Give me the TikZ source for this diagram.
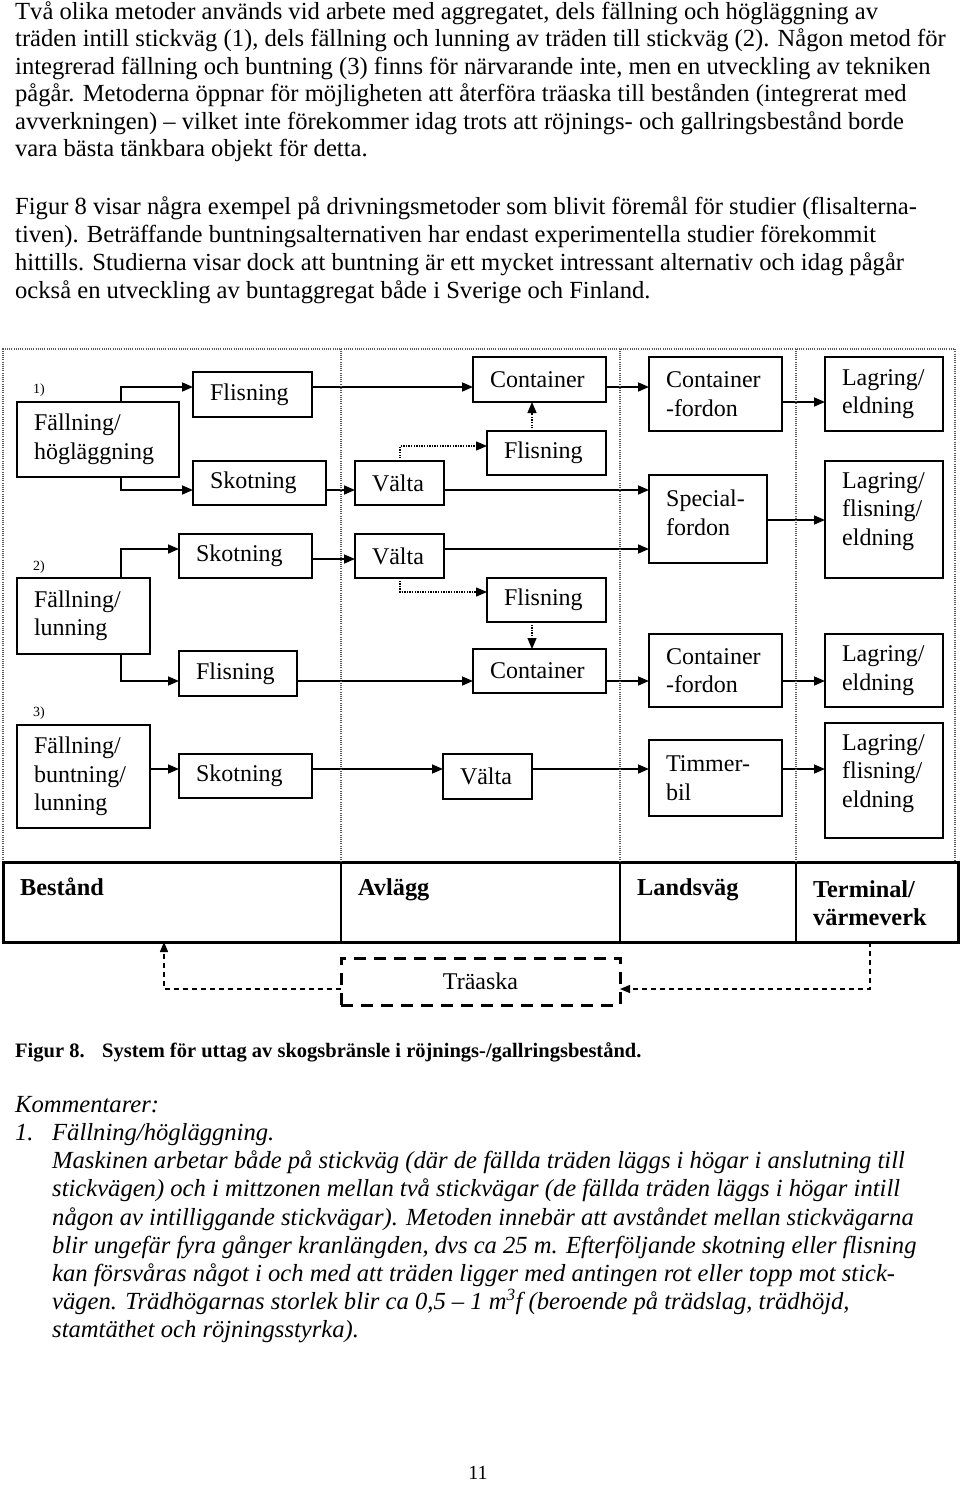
\documentclass[tikz,border=0pt]{standalone}
\usepackage{fontspec}
\setmainfont{Liberation Serif}
\usetikzlibrary{arrows.meta,calc}
\newcommand\diagfont{\fontsize{24}{28.5}\selectfont\hyphenpenalty=10000\relax}
\newcommand\bodyfont{\fontsize{24.6}{28}\selectfont}
\newcommand\mkbox[6]{\pgfmathsetmacro\mytw{#4-34}\node[bx, minimum width=#4pt, minimum height=#5pt, text width=\mytw pt] (#1) at (#2,#3) {#6};}
\begin{document}
\begin{tikzpicture}[x=1pt,y=-1pt,
  bx/.style={draw, line width=1.6pt, inner xsep=17pt, inner ysep=0pt, outer sep=0pt, align=left, anchor=north west, font=\diagfont},
  btxt/.style={inner sep=0pt, align=left, anchor=west, font=\diagfont},
  arr/.style={line width=1.6pt, -{Triangle[length=11pt,width=9pt]}},
  darr/.style={line width=1.3pt, dash pattern=on 1.3pt off 1.3pt, -{Triangle[length=11pt,width=9pt]}},
  tarr/.style={line width=1.3pt, dash pattern=on 5pt off 4pt, -{Triangle[length=10pt,width=8pt]}},
  frame/.style={line width=1.1pt, black!65, dash pattern=on 1pt off 1.2pt},
  ptxt/.style={inner sep=0pt, anchor=mid west, font=\bodyfont},
  itxt/.style={inner sep=0pt, anchor=mid west, font=\bodyfont\itshape},
  ctxt/.style={inner sep=0pt, anchor=mid west, font=\fontsize{20.5}{24}\selectfont\bfseries},
  ttxt/.style={inner sep=0pt, anchor=mid west, font=\fontsize{24.3}{28}\selectfont\bfseries},
  lab/.style={inner sep=0pt, font=\fontsize{14}{16}\selectfont},
  cell/.style={draw, line width=2pt, minimum height=80pt, inner sep=0pt, outer sep=0pt, anchor=north west}
]
\useasboundingbox (0,0) rectangle (960,1493);
\fill[white] (0,0) rectangle (960,1493);

% ---------- body text ----------
\node[ptxt] (a1) at (15,17.0) {Två olika metoder används vid arbete med aggregatet, dels fällning och högläggning av};
\node[ptxt] (a2) at (15,44.5) {träden intill stickväg (1), dels fällning och lunning av träden till stickväg (2). Någon metod för};
\node[ptxt] (a3) at (15,72.0) {integrerad fällning och buntning (3) finns för närvarande inte, men en utveckling av tekniken};
\node[ptxt] (a4) at (15,99.5) {pågår. Metoderna öppnar för möjligheten att återföra träaska till bestånden (integrerat med};
\node[ptxt] (a5) at (15,127.0) {avverkningen) – vilket inte förekommer idag trots att röjnings- och gallringsbestånd borde};
\node[ptxt] (a6) at (15,154.5) {vara bästa tänkbara objekt för detta.};
\node[ptxt] (b1) at (15,212.5) {Figur 8 visar några exempel på drivningsmetoder som blivit föremål för studier (flisalterna-};
\node[ptxt] (b2) at (15,240.4) {tiven). Beträffande buntningsalternativen har endast experimentella studier förekommit};
\node[ptxt] (b3) at (15,268.3) {hittills. Studierna visar dock att buntning är ett mycket intressant alternativ och idag pågår};
\node[ptxt] (b4) at (15,296.2) {också en utveckling av buntaggregat både i Sverige och Finland.};

% ---------- helper levels ----------
\coordinate (ftop) at (0,349);
\coordinate (yA) at (0,387);
\coordinate (yB) at (0,490);
\coordinate (yC) at (0,446);
\coordinate (yD) at (0,402);
\coordinate (yE) at (0,520);
\coordinate (yF) at (0,549);
\coordinate (yG) at (0,559);
\coordinate (yH) at (0,592);
\coordinate (yI) at (0,681);
\coordinate (yJ) at (0,769);
\coordinate (xF) at (121,0);
\coordinate (xV) at (400,0);
\coordinate (xC) at (532,0);

% ---------- boxes ----------
\mkbox{f1}{17}{402}{162}{75}{Fällning/\\högläggning}
\mkbox{fl1}{193}{372}{119}{45}{Flisning}
\mkbox{sk1}{193}{461}{133}{44}{Skotning}
\mkbox{va1}{355}{461}{89}{44}{Välta}
\mkbox{sk2}{179}{534}{133}{44}{Skotning}
\mkbox{va2}{355}{534}{89}{44}{Välta}
\mkbox{f2}{17}{578}{133}{76}{Fällning/\\lunning}
\mkbox{fl2}{179}{651}{118}{45}{Flisning}
\mkbox{f3}{17}{725}{133}{103}{Fällning/\\buntning/\\lunning}
\mkbox{sk3}{179}{754}{133}{44}{Skotning}
\mkbox{va3}{443}{754}{89}{45}{Välta}
\mkbox{co1}{473}{357}{133}{45}{Container}
\mkbox{fl1b}{487}{431}{119}{44}{Flisning}
\mkbox{fl2b}{487}{578}{119}{44}{Flisning}
\mkbox{co2}{473}{649}{133}{44}{Container}
\mkbox{cf1}{649}{357}{133}{74}{Container\\-fordon}
\mkbox{sf}{649}{475}{118}{88}{}
\mkbox{cf2}{649}{634}{133}{73}{Container\\-fordon}
\mkbox{tb}{649}{740}{133}{76}{Timmer-\\bil}
\mkbox{le1}{825}{357}{118}{74}{Lagring/\\eldning}
\mkbox{lfe1}{825}{461}{118}{117}{}
\mkbox{le2}{825}{634}{118}{73}{Lagring/\\eldning}
\mkbox{lfe2}{825}{723}{118}{115}{}
\node[btxt] (sft) at ([xshift=17pt,yshift=6pt]sf.west) {Special-\\fordon};
\node[btxt] (lfe1t) at ([xshift=17pt,yshift=8pt]lfe1.west) {Lagring/\\flisning/\\eldning};
\node[btxt] (lfe2t) at ([xshift=17pt,yshift=7pt]lfe2.west) {Lagring/\\flisning/\\eldning};

\node[lab] (l1) at (39,390) {1)};
\node[lab] (l2) at (39,567) {2)};
\node[lab] (l3) at (39,713) {3)};

% ---------- frame ----------
\draw[frame] (3,862) -- (3,349) -- (955,349) -- (955,862);

% ---------- connectors ----------
\draw[arr] (f1.north -| xF) |- (fl1.west |- yA);
\draw[arr] (f1.south -| xF) |- (sk1.west |- yB);
\draw[arr] (sk1.east |- yB) -- (va1.west |- yB);
\draw[arr] (fl1.east |- yA) -- (co1.west |- yA);
\draw[darr] (va1.north -| xV) |- (fl1b.west |- yC);
\draw[darr] (fl1b.north -| xC) -- (co1.south -| xC);
\draw[arr] (va1.east |- yB) -- (sf.west |- yB);
\draw[arr] (co1.east |- yA) -- (cf1.west |- yA);
\draw[arr] (cf1.east |- yD) -- (le1.west |- yD);
\draw[arr] (sf.east |- yE) -- (lfe1.west |- yE);
\draw[arr] (f2.north -| xF) |- (sk2.west |- yF);
\draw[arr] (sk2.east |- yG) -- (va2.west |- yG);
\draw[arr] (va2.east |- yF) -- (sf.west |- yF);
\draw[darr] (va2.south -| xV) |- (fl2b.west |- yH);
\draw[darr] (fl2b.south -| xC) -- (co2.north -| xC);
\draw[arr] (f2.south -| xF) |- (fl2.west |- yI);
\draw[arr] (fl2.east |- yI) -- (co2.west |- yI);
\draw[arr] (co2.east |- yI) -- (cf2.west |- yI);
\draw[arr] (cf2.east |- yI) -- (le2.west |- yI);
\draw[arr] (f3.east |- yJ) -- (sk3.west |- yJ);
\draw[arr] (sk3.east |- yJ) -- (va3.west |- yJ);
\draw[arr] (va3.east |- yJ) -- (tb.west |- yJ);
\draw[arr] (tb.east |- yJ) -- (lfe2.west |- yJ);

% ---------- table ----------
\node[cell, minimum width=338pt] (tB) at (3,862) {};
\node[cell, minimum width=279pt] (tA) at (341,862) {};
\node[cell, minimum width=176pt] (tL) at (620,862) {};
\node[cell, minimum width=162pt] (tT) at (796,862) {};
\draw[line width=3pt] (tB.north west) rectangle (tT.south east);
\draw[frame] (tA.north west) -- (tA.north west |- ftop);
\draw[frame] (tL.north west) -- (tL.north west |- ftop);
\draw[frame] (tT.north west) -- (tT.north west |- ftop);
\node[ttxt] (tBt) at ([xshift=17pt,yshift=-31pt]tB.north west) {Bestånd};
\node[ttxt] (tAt) at ([xshift=17pt,yshift=-31pt]tA.north west) {Avlägg};
\node[ttxt] (tLt) at ([xshift=17pt,yshift=-31pt]tL.north west) {Landsväg};
\node[ttxt, align=left, anchor=north west] (tTt) at ([xshift=17pt,yshift=-18pt]tT.north west) {Terminal/\\värmeverk};

% ---------- träaska ----------
\node[draw, line width=3pt, dash pattern=on 12pt off 8pt, minimum width=279pt, minimum height=47pt, inner sep=0pt, outer sep=0pt, anchor=north west, font=\diagfont] (tr) at (341,958) {Träaska};
\coordinate (yT) at (0,989);
\coordinate (xTe) at (870,0);
\coordinate (xBe) at (164,0);
\draw[tarr] (tT.south -| xTe) |- (tr.east |- yT);
\draw[tarr] (tr.west |- yT) -| (tB.south -| xBe);

% ---------- caption ----------
\node[ctxt] (c1) at (15,1055) {Figur 8.};
\node[ctxt] (c2) at (102,1055) {System för uttag av skogsbränsle i röjnings-/gallringsbestånd.};

% ---------- comments ----------
\node[itxt] (k0) at (15,1110) {Kommentarer:};
\node[itxt] (k1n) at (15,1138) {1.};
\node[itxt] (k1) at (52,1138) {Fällning/högläggning.};
\node[itxt] (k2) at (52,1166.5) {Maskinen arbetar både på stickväg (där de fällda träden läggs i högar i anslutning till};
\node[itxt] (k3) at (52,1194.6) {stickvägen) och i mittzonen mellan två stickvägar (de fällda träden läggs i högar intill};
\node[itxt] (k4) at (52,1222.7) {någon av intilliggande stickvägar). Metoden innebär att avståndet mellan stickvägarna};
\node[itxt] (k5) at (52,1250.8) {blir ungefär fyra gånger kranlängden, dvs ca 25 m. Efterföljande skotning eller flisning};
\node[itxt] (k6) at (52,1278.9) {kan försvåras något i och med att träden ligger med antingen rot eller topp mot stick-};
\node[itxt] (k7) at (52,1307.0) {vägen. Trädhögarnas storlek blir ca 0,5 – 1 m\textsuperscript{3}f (beroende på trädslag, trädhöjd,};
\node[itxt] (k8) at (52,1335.1) {stamtäthet och röjningsstyrka).};

\node[inner sep=0pt, font=\fontsize{20}{24}\selectfont] (pg) at (478,1473) {11};
\end{tikzpicture}
\end{document}
